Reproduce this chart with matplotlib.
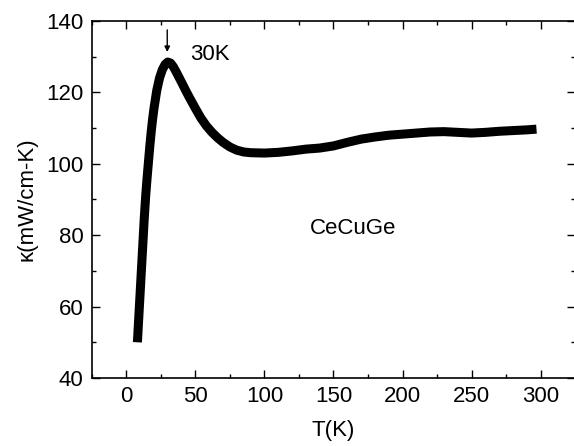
import numpy as np
import matplotlib
matplotlib.use("Agg")
import matplotlib.pyplot as plt
from matplotlib.ticker import MultipleLocator

plt.rcParams['font.family'] = ['Liberation Sans', 'DejaVu Sans']

# thermal conductivity of CeCuGe
temp_K = [8, 9, 10, 11, 12, 13, 14, 15, 16, 17, 18, 19, 20, 22, 24, 26, 28, 30,
          32, 34, 36, 38, 40, 43, 46, 50, 54, 58, 62, 66, 70, 75, 80, 85, 90,
          100, 110, 120, 130, 140, 150, 160, 170, 180, 190, 200, 210, 220, 230,
          240, 250, 260, 270, 280, 290, 297]
kappa = [50, 57, 64, 71, 78, 85, 91, 96, 100.5, 105, 109, 112.5, 115.5, 120.5,
         124, 126.3, 127.8, 128.5, 128.2, 127.2, 125.8, 124.3, 122.8, 120.5,
         118.3, 115.5, 112.8, 110.6, 108.8, 107.3, 106, 104.7, 103.8, 103.3,
         103.1, 103, 103.2, 103.6, 104.1, 104.4, 105, 106, 106.9, 107.5, 108,
         108.3, 108.6, 108.9, 109, 108.8, 108.6, 108.8, 109.1, 109.3, 109.5,
         109.7]

x_ticks = [0, 50, 100, 150, 200, 250, 300]
y_ticks = [40, 60, 80, 100, 120, 140]

fig = plt.figure(figsize=(5.74, 4.46), dpi=100)
ax = fig.add_axes([0.160, 0.1525, 1.002 - 0.160, 0.953 - 0.1525])

ax.plot(temp_K, kappa, color='black', lw=6.5, solid_capstyle='butt',
        solid_joinstyle='round')

ax.set_xlim(-25, 325)
ax.set_ylim(40, 140)
ax.set_xticks(x_ticks)
ax.set_yticks(y_ticks)
ax.xaxis.set_minor_locator(MultipleLocator(25))
ax.yaxis.set_minor_locator(MultipleLocator(10))
ax.tick_params(which='both', direction='in', top=True, right=True,
               labelsize=16, pad=6, width=1)
ax.tick_params(which='major', length=6)
ax.tick_params(which='minor', length=3)
for s in ax.spines.values():
    s.set_linewidth(1.2)

ax.set_xlabel("T(K)", fontsize=16, labelpad=9)
ax.set_ylabel("κ(mW/cm-K)", fontsize=16, labelpad=6)

ax.text(46, 130.5, "30K", fontsize=16, va='center', ha='left')
ax.text(133, 82, "CeCuGe", fontsize=16, va='center', ha='left')
ax.annotate("", xy=(29.6, 131.3), xytext=(29.6, 137.5),
            arrowprops=dict(arrowstyle='-|>', color='black', lw=1,
                            mutation_scale=8, shrinkA=0, shrinkB=0))

fig.savefig("out.png", dpi=100)
